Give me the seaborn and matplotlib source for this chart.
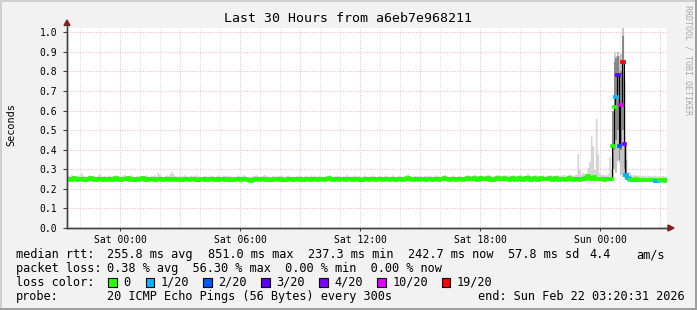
import numpy as np
import matplotlib
matplotlib.use("Agg")
import matplotlib.pyplot as plt
from matplotlib.patches import Rectangle
from matplotlib.lines import Line2D
import seaborn as sns

# ---------------- data (ms, one sample every 5 minutes, 30 hours) ----------------
median_rows = [
    [249,251,247,250,253,249,246,248,252,250,247,245,249,252,254,249,247,244,248,251,249,246,250,248],
    [247,251,249,245,248,253,250,247,244,248,251,249,253,250,246,248,251,247,245,249,251,253,248,246],
    [245,248,251,249,246,244,248,251,249,246,248,252,249,245,248,251,246,248,250,247,244,246,249,251],
    [248,245,249,251,248,246,243,246,249,252,248,245,244,249,251,248,246,249,246,243,248,251,249,246],
    [248,251,246,244,246,249,252,248,246,249,251,248,245,243,242,246,249,251,248,245,248,251,249,246],
    [249,246,244,246,249,251,248,245,249,247,244,246,249,252,248,245,248,251,249,246,248,245,243,248],
    [251,248,246,249,252,248,245,248,251,249,246,248,251,254,249,246,248,251,248,245,249,252,248,246],
    [249,252,248,245,249,251,248,246,243,246,249,252,248,245,248,251,248,246,249,252,248,245,248,251],
    [248,245,249,252,248,246,249,251,248,245,249,252,254,250,248,245,249,251,248,246,248,251,249,246],
    [249,251,248,246,249,252,248,245,249,251,254,250,248,245,249,251,248,246,249,251,248,246,249,252],
    [253,250,248,251,253,250,247,250,253,250,248,251,254,250,247,245,249,251,253,250,248,251,253,250],
    [250,247,250,253,250,247,250,253,250,247,250,253,255,250,247,250,253,250,247,250,253,250,248,250],
    [250,253,250,247,250,253,250,247,250,252,250,247,250,253,250,247,250,252,250,247,250,252,250,254],
    [266,257,250,255,262,251,248,250,248,250,247,250,248,250,249,420,620,670,780,420,630,850,430,270],
    [254,251,246,244,246,248,244,246,243,245,247,244,243,245,246,243,245,242,241,244,245,243,242,243],
]
smoke_hi_rows = [
    [270,266,275,268,264,267,272,266,282,271,267,264,268,274,266,270,267,265,271,278,267,266,269,264],
    [267,272,266,263,269,273,267,264,266,270,273,267,264,269,272,266,263,267,271,266,269,264,267,272],
    [266,264,269,267,272,266,283,275,267,264,266,271,267,274,290,280,269,266,264,269,267,266,272,267],
    [264,267,271,266,269,272,267,264,263,266,269,267,264,271,266,269,263,267,272,266,264,269,267,271],
    [266,269,264,267,263,266,271,267,264,272,269,266,263,267,264,266,269,272,267,264,266,269,274,267],
    [266,263,267,271,266,264,269,267,272,266,264,267,271,266,263,267,264,269,266,272,267,264,266,269],
    [264,267,272,266,269,264,267,271,266,263,267,266,269,274,266,264,267,271,266,269,264,267,266,272],
    [269,266,264,267,271,266,269,267,263,266,271,267,264,269,266,272,267,264,266,269,267,264,269,271],
    [266,264,267,272,266,263,267,271,266,264,269,272,277,267,266,264,269,267,266,271,267,264,269,266],
    [267,271,266,264,269,272,267,266,264,269,274,269,266,264,267,271,266,264,267,269,266,264,267,271],
    [272,269,267,271,274,269,266,269,272,269,267,271,276,271,267,266,269,272,274,269,267,271,272,269],
    [271,267,269,272,271,266,269,274,271,267,269,272,279,271,267,269,272,271,267,269,272,271,267,269],
    [269,272,271,267,269,272,271,267,269,274,271,267,272,276,271,269,271,274,380,300,272,285,278,280],
    [310,340,470,420,300,560,380,280,272,275,272,270,278,365,300,600,900,880,900,880,890,1020,750,420],
    [290,285,276,270,273,268,270,272,266,269,268,265,270,266,268,265,270,266,265,268,266,269,265,266],
]
# spike detail (samples 327..335)
spike_start = 327
spike_lo = [250, 300, 280, 340, 330, 270, 260, 255, 250]
spike_dark_lo = [300, 400, 450, 500, 350, 400, 500, 300, 260]
spike_dark_hi = [600, 850, 870, 880, 700, 800, 980, 700, 350]
# packet loss (x/20) where non-zero
loss_idx = [329, 330, 331, 332, 333, 334, 335, 336, 337, 353, 354]
loss_val = [1, 3, 2, 10, 19, 4, 1, 1, 1, 1, 1]

loss_levels = [0, 1, 2, 3, 4, 10, 19]
loss_labels = ["0", "1/20", "2/20", "3/20", "4/20", "10/20", "19/20"]
loss_colors = ["#26ff00", "#00b8ff", "#0059ff", "#5e00ff", "#7e00ff", "#dd00ff", "#ff0000"]

y_ticks = [0.0, 0.1, 0.2, 0.3, 0.4, 0.5, 0.6, 0.7, 0.8, 0.9, 1.0]
x_tick_labels = ["Sat 00:00", "Sat 06:00", "Sat 12:00", "Sat 18:00", "Sun 00:00"]
first_full_hour = 0.6581  # 21:20:31 -> 22:00:00

# ---------------- build arrays ----------------
median = np.array(sum(median_rows, []), dtype=float) / 1000.0
smoke_hi = np.array(sum(smoke_hi_rows, []), dtype=float) / 1000.0
n = len(median)
loss = np.zeros(n, dtype=int)
loss[np.array(loss_idx)] = loss_val
hours = np.arange(n + 1) * 5 / 60.0
med_ext = np.append(median, median[-1])
hi_ext = np.append(smoke_hi, smoke_hi[-1])

W, H = 697, 310
fig = plt.figure(figsize=(W / 100, H / 100), dpi=100)
fig.patch.set_facecolor("#f2f2f2")
ax = fig.add_axes([67 / W, 1 - 228 / H, 600 / W, 200 / H])
ax.set_facecolor("white")
ax.set_xlim(0, 30)
ax.set_ylim(0, 1.022)

# grid (dotted)
dot = (0, (1, 1.6))
for k in range(30):
    h = first_full_hour + k
    clock = (22 + k) % 24
    col = "#f2b8b8" if clock % 3 == 0 else "#d8d8d8"
    ax.axvline(h, color=col, lw=0.72, ls=dot, zorder=0)
for yv in y_ticks[1:]:
    ax.axhline(yv, color="#f2b8b8", lw=0.72, ls=dot, zorder=0)

# smoke
ax.fill_between(hours, med_ext, hi_ext, step="post", color="#d4d4d4", lw=0, zorder=1)
sx = hours[spike_start:spike_start + len(spike_lo) + 1]
lo_e = np.append(np.array(spike_lo) / 1000, spike_lo[-1] / 1000)
dlo_e = np.append(np.array(spike_dark_lo) / 1000, spike_dark_lo[-1] / 1000)
dhi_e = np.append(np.array(spike_dark_hi) / 1000, spike_dark_hi[-1] / 1000)
shi_e = hi_ext[spike_start:spike_start + len(spike_lo) + 1]
ax.fill_between(sx, lo_e, shi_e, step="post", color="#c4c4c4", lw=0, zorder=1)
ax.fill_between(sx, dlo_e, dhi_e, step="post", color="#888888", lw=0, zorder=1)

# median (black thin step line) via seaborn
sns.lineplot(x=hours, y=med_ext, ax=ax, color="black", lw=0.8,
             drawstyle="steps-post", zorder=3, legend=False)
# loss-coloured median, one short segment per sample
seg_cols = [loss_colors[loss_levels.index(v)] for v in loss]
ax.hlines(median, hours[:-1], hours[1:], colors=seg_cols, lw=2.7, zorder=4,
          capstyle="projecting")

# axes styling
for s in ["top", "right"]:
    ax.spines[s].set_visible(False)
for s in ["left", "bottom"]:
    ax.spines[s].set_color("#404040")
    ax.spines[s].set_linewidth(1.0)
ax.set_yticks(y_ticks)
ax.set_yticklabels([f"{v:.1f}" for v in y_ticks], family="DejaVu Sans Mono", fontsize=7)
xt = [first_full_hour + 2 + 6 * k for k in range(5)]
ax.set_xticks(xt)
ax.set_xticklabels(x_tick_labels, family="DejaVu Sans Mono", fontsize=7)
ax.tick_params(axis="y", length=3, width=0.8, pad=4, color="#404040")
ax.tick_params(axis="x", length=2, width=0.8, pad=3, color="#404040")
ax.set_xlabel("")
ax.set_ylabel("")

# axis extension + arrows
fig.add_artist(Line2D([67 / W, 67 / W], [1 - 228 / H, 1 - 24 / H], color="#404040", lw=1.0))
fig.add_artist(Line2D([67 / W, 669 / W], [1 - 228 / H, 1 - 228 / H], color="#404040", lw=1.0))
fig.add_artist(plt.Polygon([[64 / W, 1 - 25.5 / H], [70 / W, 1 - 25.5 / H], [67 / W, 1 - 20 / H]],
                           closed=True, color="#8b1a1a", transform=fig.transFigure))
fig.add_artist(plt.Polygon([[668 / W, 1 - 225 / H], [668 / W, 1 - 231 / H], [674 / W, 1 - 228 / H]],
                           closed=True, color="#8b1a1a", transform=fig.transFigure))

mono = "DejaVu Sans Mono"
def ft(x, y, s, **kw):
    fig.text(x / W, 1 - y / H, s, family=mono, **kw)

ft(348, 19, "Last 30 Hours from a6eb7e968211", fontsize=9.5, ha="center", va="center")
ft(11, 125, "Seconds", fontsize=7.3, rotation=90, ha="center", va="center")
ft(688, 5, "RRDTOOL / TOBI OETIKER", fontsize=6, rotation=270, ha="center", va="top", color="#a8a8a8")

LF = 8.6
ft(16, 254.5, "median rtt:", fontsize=LF, va="center")
for xx, s in [(107.3, "255.8 ms avg"), (207.7, "851.0 ms max"), (307.7, "237.3 ms min"),
              (408, "242.7 ms now"), (508, "57.8 ms sd"), (589, "4.4"), (636.5, "am/s")]:
    ft(xx, 254.5, s, fontsize=LF, va="center")
ft(16, 268.5, "packet loss:", fontsize=LF, va="center")
ft(107.3, 268.5, "0.38 % avg  56.30 % max  0.00 % min  0.00 % now", fontsize=LF, va="center")
ft(16, 282.3, "loss color:", fontsize=LF, va="center")
box_x = [108.3, 145.7, 203.3, 261, 319.3, 377.3, 441.7]
for bx, lab, col in zip(box_x, loss_labels, loss_colors):
    fig.add_artist(Rectangle((bx / W, 1 - 286.5 / H), 8.5 / W, 8.5 / H, facecolor=col,
                             edgecolor="black", lw=0.8, transform=fig.transFigure))
    ft(bx + 15.2, 282.3, lab, fontsize=LF, va="center")
ft(16, 296.3, "probe:", fontsize=LF, va="center")
ft(107.3, 296.3, "20 ICMP Echo Pings (56 Bytes) every 300s", fontsize=LF, va="center")
ft(478.3, 296.3, "end: Sun Feb 22 03:20:31 2026", fontsize=LF, va="center")

# 3D frame
fig.add_artist(Rectangle((0, 1 - 2 / H), 1, 2 / H, color="#cfcfcf", transform=fig.transFigure, lw=0))
fig.add_artist(Rectangle((0, 0), 2 / W, 1, color="#cfcfcf", transform=fig.transFigure, lw=0))
fig.add_artist(Rectangle((0, 0), 1, 2 / H, color="#9e9e9e", transform=fig.transFigure, lw=0))
fig.add_artist(Rectangle((1 - 2 / W, 0), 2 / W, 1, color="#9e9e9e", transform=fig.transFigure, lw=0))

fig.savefig("out.png", dpi=100, facecolor=fig.get_facecolor())
